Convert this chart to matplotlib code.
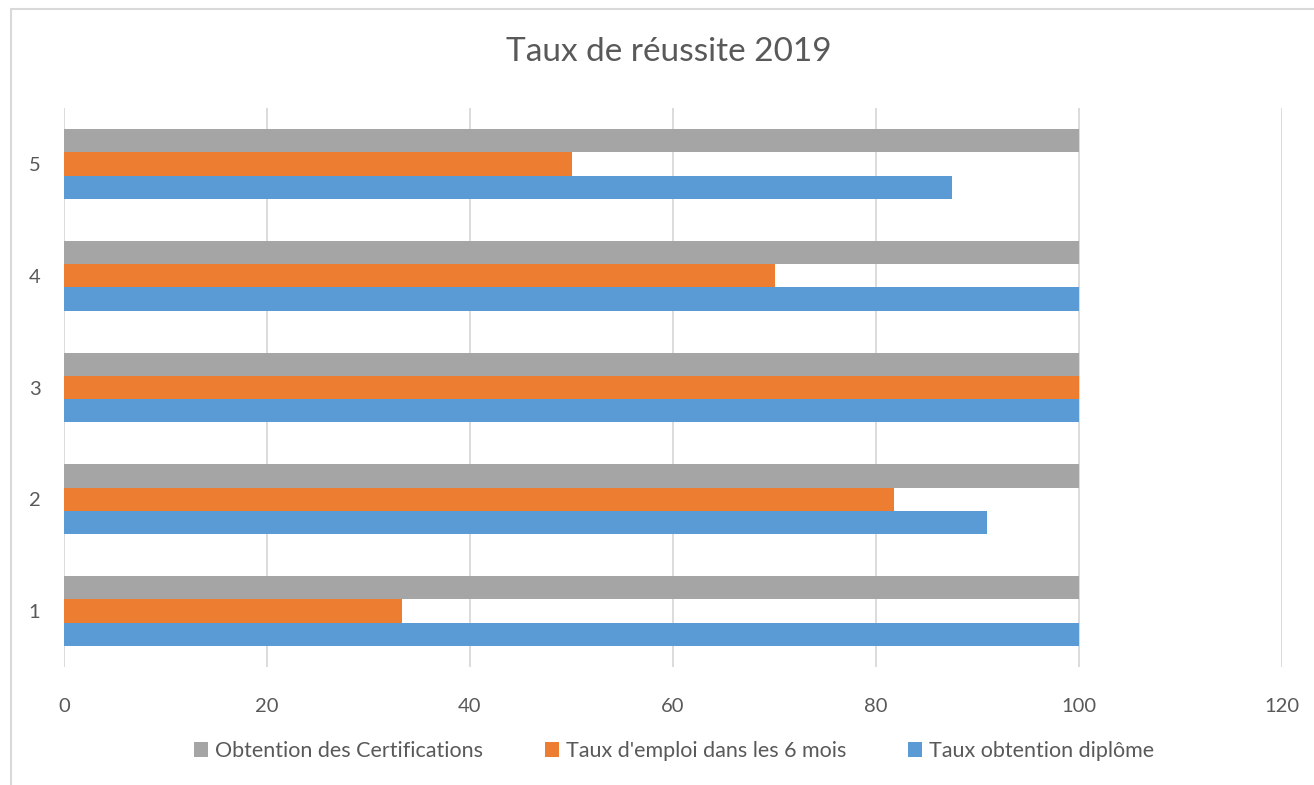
import matplotlib.pyplot as plt
import matplotlib.patches as mpatches
import numpy as np

plt.rcParams['font.family'] = ['Lato', 'DejaVu Sans']

categories = ['1', '2', '3', '4', '5']
diplome = [100, 90.9, 100, 100, 87.5]
emploi = [33.3, 81.8, 100, 70, 50]
certif = [100, 100, 100, 100, 100]

series_names = ['Taux obtention diplôme', "Taux d'emploi dans les 6 mois",
                'Obtention des Certifications']
colors = ['#5B9BD5', '#ED7D31', '#A5A5A5']
txt = '#595959'

W, H = 1314, 785
fig = plt.figure(figsize=(W / 100, H / 100), dpi=100)
ax = fig.add_axes([64 / W, 1 - 667 / H, (1282 - 64) / W, (667 - 108) / H])

# chart frame
fig.patches.append(mpatches.Rectangle((11 / W, -0.01), 1.05, 1 - 9 / H + 0.01,
                                      transform=fig.transFigure, fill=False,
                                      edgecolor='#d9d9d9', linewidth=1.5))

y = np.arange(len(categories)) + 1
h = 0.208
for i, (vals, c) in enumerate(zip([diplome, emploi, certif], colors)):
    ax.barh(y + (i - 1) * h, vals, height=h, color=c, label=series_names[i], zorder=3)

ax.set_xlim(0, 120)
ax.set_ylim(0.5, 5.5)
ax.set_xticks(range(0, 121, 20))
ax.set_yticks(y)
ax.set_yticklabels(categories)
ax.xaxis.grid(True, color='#d9d9d9', linewidth=1.3, zorder=0)
for s in ax.spines.values():
    s.set_visible(False)
ax.tick_params(length=0, labelsize=14.5, labelcolor=txt)
ax.tick_params(axis='x', pad=22)
ax.tick_params(axis='y', pad=17)

fig.text(0.509, 1 - 52 / H, 'Taux de réussite 2019', ha='center', va='center',
         fontsize=24, color=txt)

hs, ls = ax.get_legend_handles_labels()
fig.legend(hs[::-1], ls[::-1], loc='center', bbox_to_anchor=(0.513, 1 - 751 / H),
           ncol=3, frameon=False, fontsize=15.5, labelcolor=txt,
           handlelength=0.65, handleheight=0.65, handletextpad=0.3, columnspacing=2.9)

fig.savefig('out.png', dpi=100)
